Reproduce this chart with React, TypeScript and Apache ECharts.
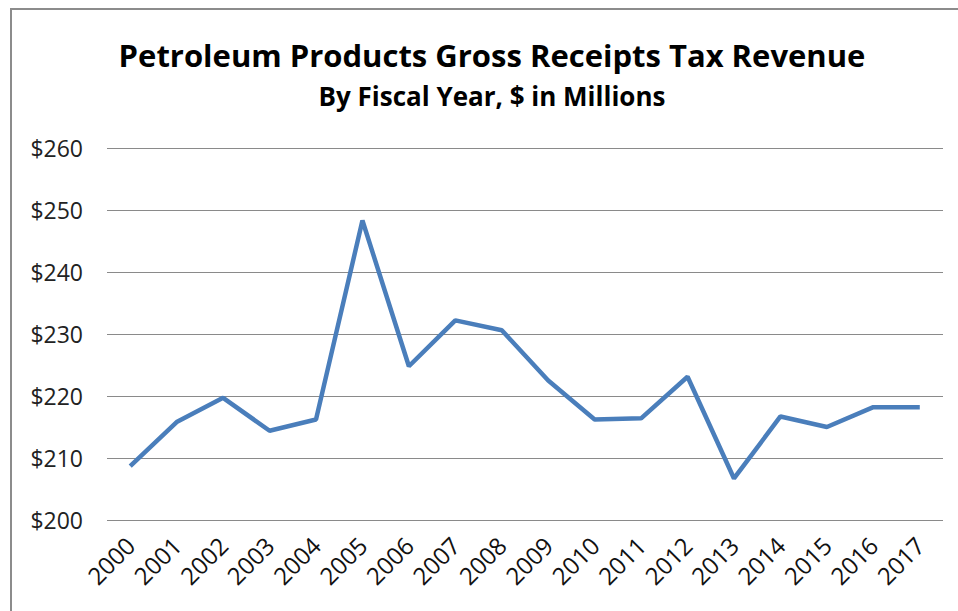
import React, { useEffect, useRef } from "react";
import * as echarts from "echarts";

const years = ["2000","2001","2002","2003","2004","2005","2006","2007","2008","2009","2010","2011","2012","2013","2014","2015","2016","2017"];
const revenue = [208.7, 215.8, 219.7, 214.4, 216.2, 248.3, 224.8, 232.2, 230.6, 222.5, 216.2, 216.4, 223.1, 206.7, 216.7, 215.0, 218.2, 218.2];
const yMin = 200;
const yMax = 260;
const yStep = 10;
const titleText = "Petroleum Products Gross Receipts Tax Revenue";
const subtitleText = "By Fiscal Year, $ in Millions";

export default function App() {
  const ref = useRef<HTMLDivElement>(null);
  useEffect(() => {
    document.body.style.margin = "0";
    const chart = echarts.init(ref.current!, null, { renderer: "svg" });
    chart.setOption({
      animation: false,
      backgroundColor: "#ffffff",
      title: {
        text: titleText,
        subtext: subtitleText,
        left: 487,
        textAlign: "center",
        top: 34,
        itemGap: 13,
        textStyle: { fontFamily: "Open Sans", fontWeight: "bold", fontSize: 31, color: "#000" },
        subtextStyle: { fontFamily: "Open Sans", fontWeight: "bold", fontSize: 26, color: "#000" },
      },
      graphic: [
        {
          type: "rect",
          shape: { x: 11, y: 9, width: 1000, height: 700 },
          style: { fill: "none", stroke: "#8c8c8c", lineWidth: 2 },
          silent: true,
        },
      ],
      grid: { left: 107, right: 15, top: 148, bottom: 91, containLabel: false },
      xAxis: {
        type: "category",
        data: years,
        boundaryGap: true,
        axisLine: { show: false },
        axisTick: { show: false },
        axisLabel: { rotate: 45, fontFamily: "Open Sans", fontSize: 24, color: "#111", margin: 21, interval: 0 },
      },
      yAxis: {
        type: "value",
        min: yMin,
        max: yMax,
        interval: yStep,
        axisLine: { show: false },
        axisTick: { show: false },
        splitLine: { lineStyle: { color: "#8a8a8a", width: 1 } },
        axisLabel: { formatter: (v: number) => "$" + v, fontFamily: "Open Sans", fontSize: 23, color: "#222", margin: 24 },
      },
      series: [
        {
          type: "line",
          data: revenue,
          symbol: "none",
          lineStyle: { color: "#4a7ebb", width: 4.5 },
        },
      ],
    });
    return () => chart.dispose();
  }, []);
  return <div ref={ref} style={{ width: 958, height: 611 }} />;
}
